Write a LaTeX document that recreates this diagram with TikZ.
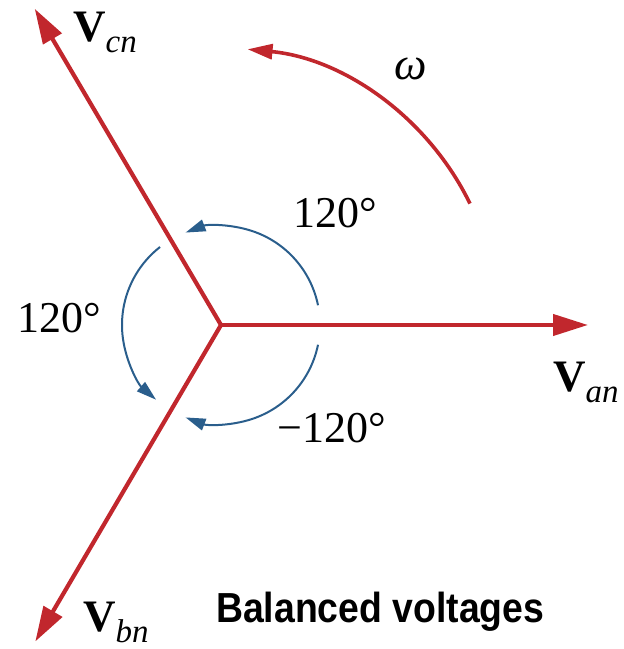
\documentclass[tikz,border=0pt]{standalone}
\usepackage{fontspec}
\setmainfont{Liberation Serif}
\newfontfamily\labelsans{Liberation Sans}
\usetikzlibrary{arrows.meta,calc}
\definecolor{vred}{RGB}{193,39,45}
\definecolor{vblue}{RGB}{42,94,140}
\newcommand{\phasorlabel}[1]{{\fontsize{45bp}{50bp}\selectfont\bfseries V}{\fontsize{33bp}{36bp}\selectfont\itshape\raisebox{-11bp}{#1}}}
\begin{document}
\begin{tikzpicture}[x=1bp,y=1bp,
  vec/.style={draw=vred,line width=4.2bp,-{Triangle[length=35bp,width=21bp]}},
  rot/.style={draw=vred,line width=3.6bp,-{Triangle[length=25bp,width=15bp]}},
  ang/.style={draw=vblue,line width=2bp,-{Triangle[length=20bp,width=12bp]}},
  deg/.style={inner sep=0pt,anchor=base west,font=\fontsize{44bp}{50bp}\selectfont},
  plab/.style={inner sep=0pt,anchor=base west}]
\useasboundingbox (0,0) rectangle (624,649);
\coordinate (O) at (221,324);
\coordinate (A) at ($(O)+(0:367)$);
\coordinate (C) at ($(O)+(120.5:367)$);
\coordinate (B) at ($(O)+(239.6:367)$);
% phasors
\draw[vec] (O) -- (A);
\draw[vec] (O) -- (C);
\draw[vec] (O) -- (B);
% rotation arrow
\draw[rot] ($(O)+(26:277)$) arc[start angle=26,end angle=84.5,radius=277];
% angle arcs
\draw[ang] ($(O)+(11.5:99)$) arc[start angle=11.5,end angle=111,radius=99];
\draw[ang] ($(O)+(128:99)$) arc[start angle=128,end angle=229,radius=99];
\draw[ang] ($(O)+(-11.5:99)$) arc[start angle=-11.5,end angle=-111,radius=99];
% labels
\node[plab] (lcn) at (73,607) {\phasorlabel{cn}};
\node[plab] (lan) at (553,257) {\phasorlabel{an}};
\node[plab] (lbn) at (83,17) {\phasorlabel{bn}};
\node[inner sep=0pt,anchor=base west,font=\fontsize{46bp}{50bp}\selectfont\itshape] (w) at (394,569) {ω};
\node[deg] (d1) at (293,421) {120°};
\node[deg] (d2) at (17,316) {120°};
\node[deg] (d3) at (277,206) {−120°};
\node[inner sep=0pt,anchor=base west] (title) at (216,26)
  {\scalebox{0.89}[1]{\labelsans\bfseries\fontsize{42bp}{48bp}\selectfont Balanced voltages}};
\end{tikzpicture}
\end{document}
